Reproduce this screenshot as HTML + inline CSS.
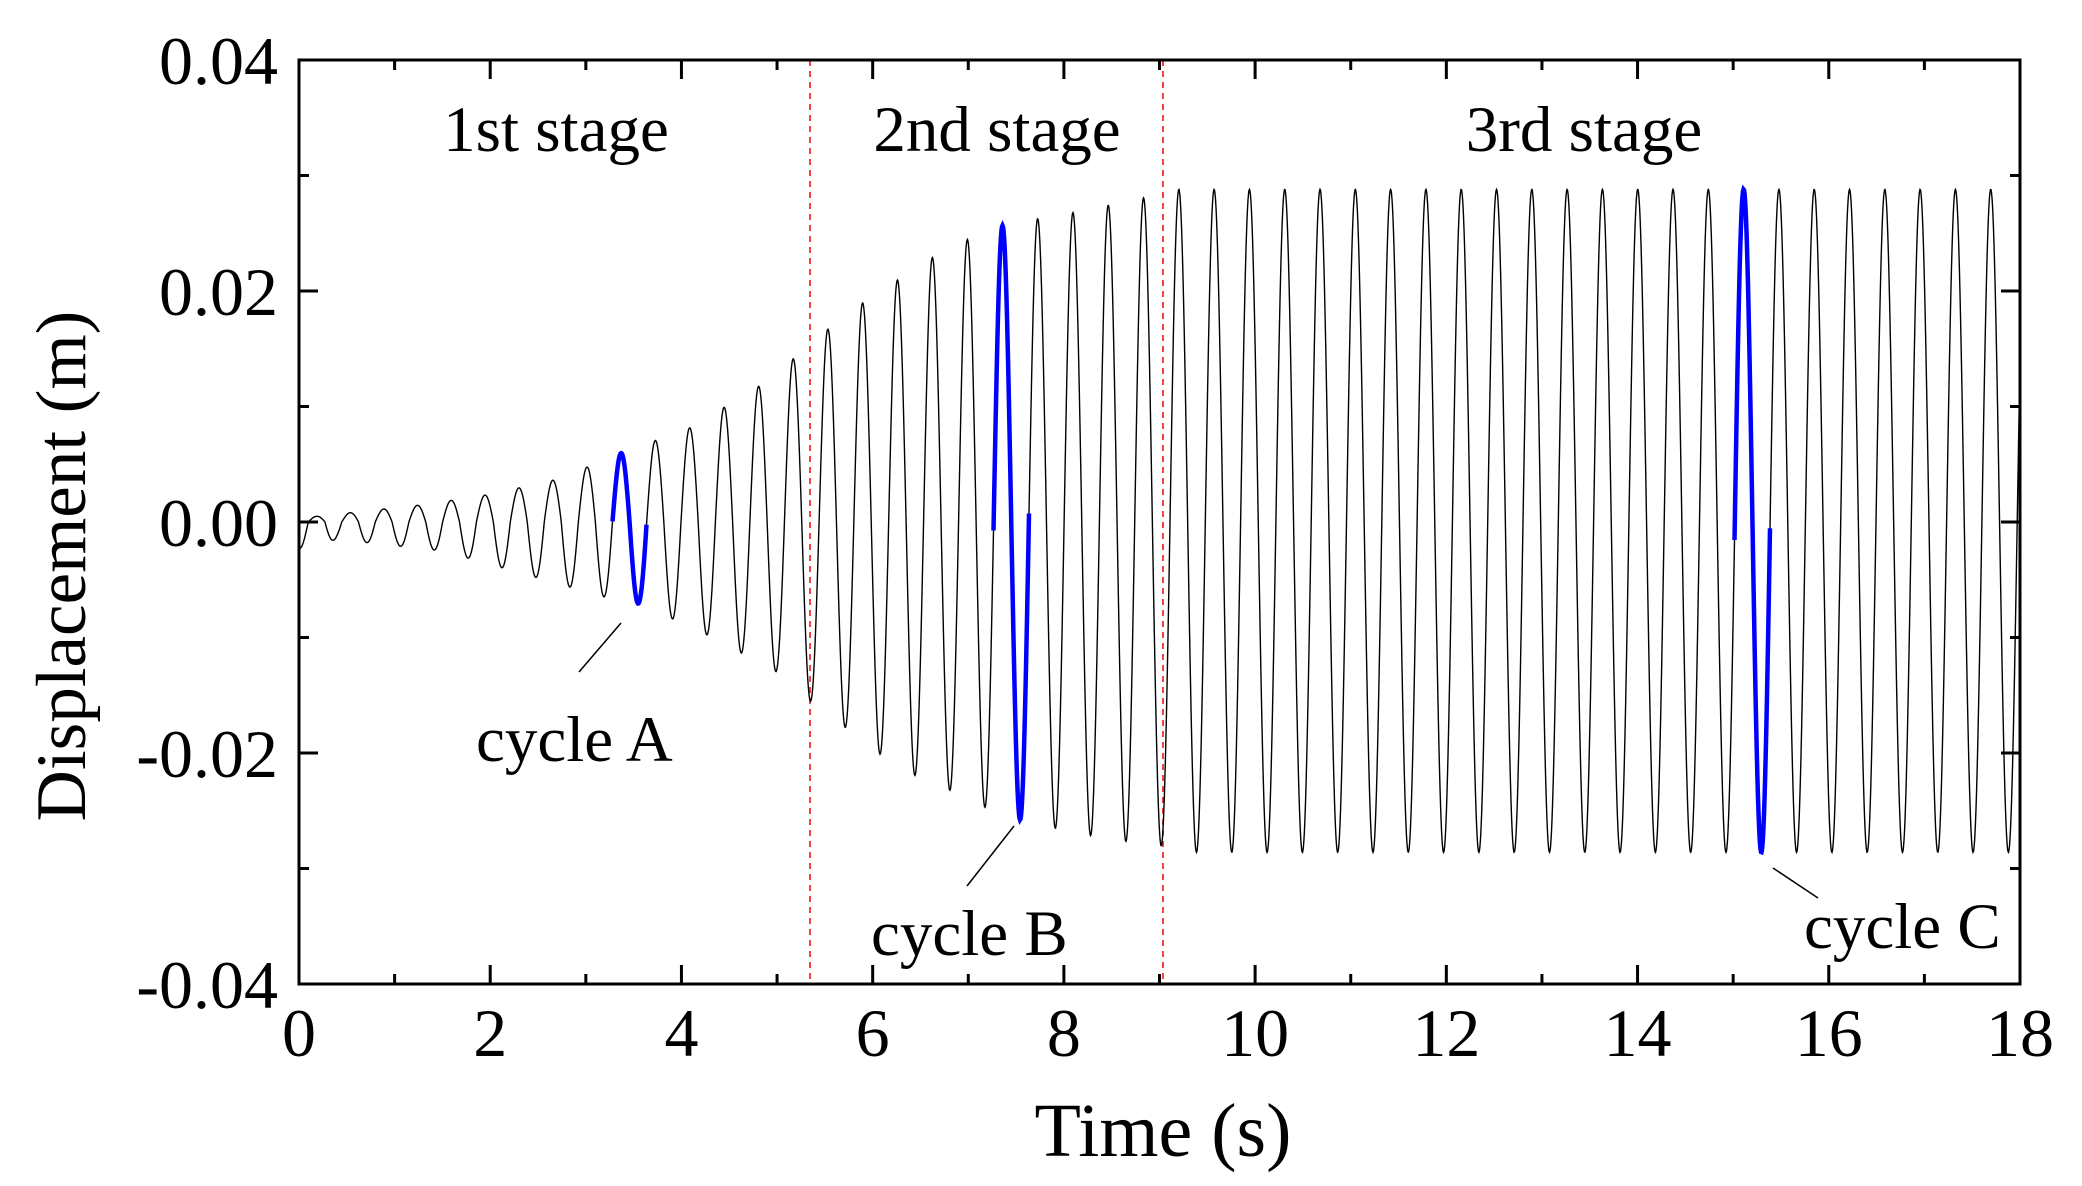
<!DOCTYPE html>
<html><head><meta charset="utf-8">
<style>
html,body{margin:0;padding:0;background:#fff;}
svg{display:block;}
text{font-family:"Liberation Serif",serif;fill:#000;}
</style></head>
<body>
<svg id="s" width="2082" height="1186" viewBox="0 0 2082 1186" xmlns="http://www.w3.org/2000/svg">
<rect width="2082" height="1186" fill="#fff"/>
<line x1="810" y1="60" x2="810" y2="984" stroke="#f03030" stroke-width="1.8" stroke-dasharray="6,5"/>
<line x1="1163" y1="60" x2="1163" y2="984" stroke="#f03030" stroke-width="1.8" stroke-dasharray="6,5"/>
<path id="blk" fill="none" stroke="#000" stroke-width="1.4"/>
<path id="bA" fill="none" stroke="#0000ff" stroke-width="4.5"/>
<path id="bB" fill="none" stroke="#0000ff" stroke-width="4.5"/>
<path id="bC" fill="none" stroke="#0000ff" stroke-width="4.5"/>
<g id="ticks" stroke="#000" stroke-width="3"></g>
<rect x="299" y="60" width="1721" height="924" fill="none" stroke="#000" stroke-width="3"/>
<line x1="621" y1="623" x2="579" y2="672" stroke="#000" stroke-width="1.5"/>
<line x1="1014" y1="826" x2="967" y2="886" stroke="#000" stroke-width="1.5"/>
<line x1="1773" y1="868" x2="1818" y2="898" stroke="#000" stroke-width="1.5"/>
<g font-size="65">
<text x="556" y="151" text-anchor="middle">1st stage</text>
<text x="997" y="151" text-anchor="middle">2nd stage</text>
<text x="1584" y="151" text-anchor="middle">3rd stage</text>
<text x="476" y="761">cycle A</text>
<text x="871" y="955">cycle B</text>
<text x="1804" y="948">cycle C</text>
</g>
<g font-size="68" text-anchor="end">
<text x="278" y="84">0.04</text>
<text x="278" y="315">0.02</text>
<text x="278" y="546">0.00</text>
<text x="278" y="777">-0.02</text>
<text x="278" y="1008">-0.04</text>
</g>
<g font-size="68" text-anchor="middle" id="xl"></g>
<text x="1163" y="1156" font-size="76" text-anchor="middle">Time (s)</text>
<text transform="translate(85,566) rotate(-90)" font-size="71" text-anchor="middle">Displacement (m)</text>
</svg>
<script>
(function(){
var X0=299,X1=2020,SX=(X1-X0)/18;
function vy(v){return 522-v/0.02*231;}
function interp(pts,t){if(t<=pts[0][0])return pts[0][1];for(var i=1;i<pts.length;i++){if(t<=pts[i][0]){var a=pts[i-1],b=pts[i];return a[1]+(b[1]-a[1])*(t-a[0])/(b[0]-a[0]);}}return pts[pts.length-1][1];}
var pos=[[0,0.0004],[0.2,0.0005],[1.3,0.0015],[2.0,0.0024],[2.7,0.0037],[3.38,0.0060],[4.1,0.0082],[4.8,0.0117],[5.15,0.014],[5.5,0.0165],[5.9,0.019],[6.6,0.0228],[7.0,0.0245],[7.4,0.0258],[8.1,0.0268],[8.8,0.028],[9.2,0.0288],[18,0.0288]];
var neg=[[0,0.0023],[0.4,0.0015],[1.5,0.0025],[3.2,0.0065],[3.57,0.0071],[4.3,0.0099],[5.0,0.013],[5.33,0.0154],[5.7,0.0177],[6.0,0.0197],[6.4,0.0218],[6.8,0.0232],[7.2,0.0248],[7.55,0.0258],[8.0,0.0267],[8.5,0.0275],[9.0,0.028],[9.3,0.0286],[18,0.0286]];
function P(x){if(x>=1060)return 35.3;return 33.4+(35.3-33.4)*(x-299)/(1060-299);}
var dx=0.5;
var phi=0,x;
var arr=[];
for(x=621;x<=X1+0.01;x+=dx){arr.push([x,phi]);phi+=dx/P(x);}
phi=0;var left=[];
for(x=621-dx;x>=X0-0.01;x-=dx){phi-=dx/P(x);left.push([x,phi]);}
left.reverse();arr=left.concat(arr);
function yAt(x,p){var t=(x-X0)/SX;var c=Math.cos(2*Math.PI*p);var a=c>=0?interp(pos,t):interp(neg,t);return vy(a*c);}
var d="";
for(var i=0;i<arr.length;i++){d+=(i?"L":"M")+arr[i][0].toFixed(1)+" "+yAt(arr[i][0],arr[i][1]).toFixed(1);}
document.getElementById("blk").setAttribute("d",d);
function seg(id,k){var s="",f=0;for(var i=0;i<arr.length;i++){var p=arr[i][1];if(p>=k-0.26&&p<=k+0.755){s+=(f?"L":"M")+arr[i][0].toFixed(1)+" "+yAt(arr[i][0],p).toFixed(1);f=1;}}document.getElementById(id).setAttribute("d",s);}
seg("bA",0);seg("bB",11);seg("bC",32);
var g=document.getElementById("ticks"),h="";
for(var s2=0;s2<=18;s2++){var xx=X0+s2*SX;var L=(s2%2==0)?19:10;h+='<line x1="'+xx+'" y1="984" x2="'+xx+'" y2="'+(984-L)+'"/>';h+='<line x1="'+xx+'" y1="60" x2="'+xx+'" y2="'+(60+L)+'"/>';}
for(var j=0;j<=8;j++){var yy=60+j*115.5;var L2=(j%2==0)?19:10;h+='<line x1="299" y1="'+yy+'" x2="'+(299+L2)+'" y2="'+yy+'"/>';h+='<line x1="2020" y1="'+yy+'" x2="'+(2020-L2)+'" y2="'+yy+'"/>';}
g.innerHTML=h;
var xl=document.getElementById("xl"),hh="";
for(var k=0;k<=18;k+=2){hh+='<text x="'+(X0+k*SX)+'" y="1056">'+k+'</text>';}
xl.innerHTML=hh;
})();
</script>
</body></html>
